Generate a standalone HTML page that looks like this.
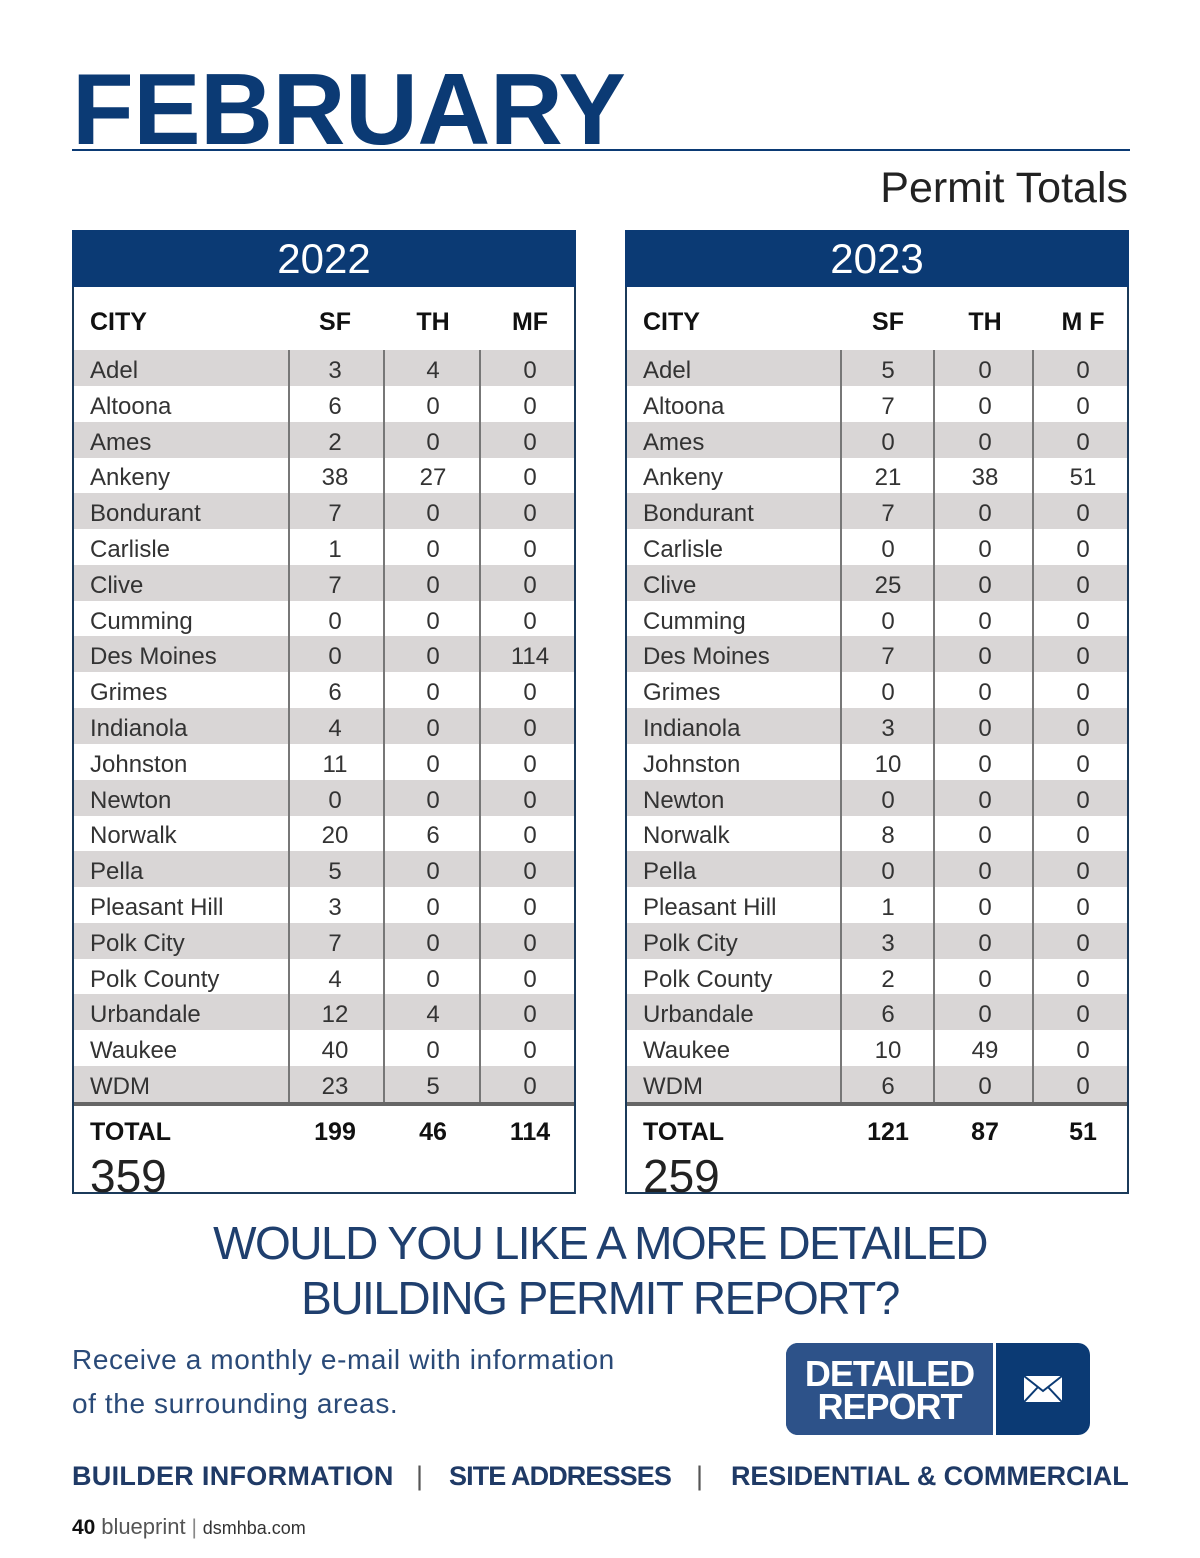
<!DOCTYPE html>
<html><head><meta charset="utf-8">
<style>
body{margin:0;width:1200px;height:1558px;background:#fff;position:relative;font-family:"Liberation Sans",sans-serif;overflow:hidden}
.abs{position:absolute}
.title{left:72px;top:50px;font-size:101px;font-weight:bold;color:#0b3a74;letter-spacing:-0.5px;line-height:120px}
.rule{left:72px;top:149px;width:1058px;height:2px;background:#0b3a74}
.sub{right:72px;top:160px;font-size:43px;color:#222;line-height:56px}
.tbl{top:230px;width:500px;height:962px;border:2px solid #1b3a5a;border-top:none}
.yhead{left:-2px;top:0;width:504px;height:57px;background:#0b3a74;color:#fff;font-size:42px;text-align:center;line-height:57px}
.hdr{top:77px;font-size:25px;font-weight:bold;color:#111;line-height:30px}
.row{left:0;width:500px;height:36px}
.row.g{background:#d9d6d6}
.cell{top:3px;font-size:24px;color:#333;line-height:36px}
.vl{width:2px;background:#777;top:120px;height:754px}
.thick{left:0;width:500px;top:872px;height:4px;background:#666}
.tot{top:888px;font-size:25px;font-weight:bold;color:#111}
.big{top:918px;left:16px;font-size:46px;color:#222;line-height:56px}
.q{left:0;width:1200px;text-align:center;font-size:46px;color:#1f3f6e;letter-spacing:-1.5px;line-height:56px}
.recv{left:72px;font-size:28px;color:#2a4a78;line-height:44px;letter-spacing:0.6px}
.links{top:1461px;font-size:27px;font-weight:bold;color:#1f3a66;letter-spacing:0.3px}
</style></head><body>
<div class="abs title">FEBRUARY</div>
<div class="abs rule"></div>
<div class="abs sub">Permit Totals</div>

<div id="t1" class="abs tbl" style="left:72px"></div>
<div id="t2" class="abs tbl" style="left:625px"></div>

<div class="abs q" style="top:1215px">WOULD YOU LIKE A MORE DETAILED</div>
<div class="abs q" style="top:1270px">BUILDING PERMIT REPORT?</div>
<div class="abs recv" style="top:1338px">Receive a monthly e-mail with information<br>of the surrounding areas.</div>

<div class="abs" style="left:786px;top:1343px;width:304px;height:92px;border-radius:12px;overflow:hidden;background:#0b3a74">
 <div class="abs" style="left:0;top:0;width:207px;height:92px;background:#2d5289;color:#fff;font-weight:bold;font-size:36px;line-height:33px;text-align:center;padding-top:14px;box-sizing:border-box;letter-spacing:-1px">DETAILED<br>REPORT</div>
 <div class="abs" style="left:207px;top:0;width:3px;height:92px;background:#fff"></div>
 <svg class="abs" style="left:237px;top:32px" width="40" height="28"><rect x="1" y="1" width="38" height="26" fill="#fff"/><path d="M1 1 L20 16 L39 1 M1 27 L15 12 M39 27 L25 12" stroke="#0b3a74" stroke-width="2" fill="none"/></svg>
</div>

<div class="abs links" style="left:72px">BUILDER INFORMATION</div>
<div class="abs links" style="left:416px;font-weight:normal;color:#555">|</div>
<div class="abs links" style="left:449px;letter-spacing:-0.9px">SITE ADDRESSES</div>
<div class="abs links" style="left:696px;font-weight:normal;color:#555">|</div>
<div class="abs links" style="left:731px;letter-spacing:-0.1px">RESIDENTIAL &amp; COMMERCIAL</div>

<div class="abs" style="left:72px;top:1514px;font-size:21px;color:#111"><b>40</b> <span style="color:#555;font-size:22px">blueprint</span> <span style="color:#888">|</span> <span style="color:#333;font-size:18px">dsmhba.com</span></div>

<script>
const cities=["Adel","Altoona","Ames","Ankeny","Bondurant","Carlisle","Clive","Cumming","Des Moines","Grimes","Indianola","Johnston","Newton","Norwalk","Pella","Pleasant Hill","Polk City","Polk County","Urbandale","Waukee","WDM"];
const sf2022=[3,6,2,38,7,1,7,0,0,6,4,11,0,20,5,3,7,4,12,40,23];
const th2022=[4,0,0,27,0,0,0,0,0,0,0,0,0,6,0,0,0,0,4,0,5];
const mf2022=[0,0,0,0,0,0,0,0,114,0,0,0,0,0,0,0,0,0,0,0,0];
const sf2023=[5,7,0,21,7,0,25,0,7,0,3,10,0,8,0,1,3,2,6,10,6];
const th2023=[0,0,0,38,0,0,0,0,0,0,0,0,0,0,0,0,0,0,0,49,0];
const mf2023=[0,0,0,51,0,0,0,0,0,0,0,0,0,0,0,0,0,0,0,0,0];
const sum=a=>a.reduce((x,y)=>x+y,0);
function build(id,year,sf,th,mf,divs,cents,mfLabel){
 const t=document.getElementById(id);
 let h=document.createElement('div');h.className='abs yhead';h.textContent=year;
 
 
 t.appendChild(h);
 const hd=[["CITY",16,false],["SF",cents[0],true],["TH",cents[1],true],[mfLabel,cents[2],true]];
 hd.forEach(([s,x,c])=>{const d=document.createElement('div');d.className='abs hdr';d.textContent=s;
  d.style.left=x+'px';if(c)d.style.transform='translateX(-50%)';
  
  
  t.appendChild(d);});
 cities.forEach((c,i)=>{const r=document.createElement('div');r.className='abs row'+(i%2==0?' g':'');
  r.style.top=(120+i*35.8)+'px';
  
  
  const vals=[[c,16,false],[sf[i],cents[0],true],[th[i],cents[1],true],[mf[i],cents[2],true]];
  vals.forEach(([v,x,cc])=>{const d=document.createElement('div');d.className='abs cell';d.textContent=v;d.style.left=x+'px';if(cc)d.style.transform='translateX(-50%)';r.appendChild(d);});
  t.appendChild(r);});
 divs.forEach(x=>{const v=document.createElement('div');v.className='abs vl';v.style.left=x+'px';
  
  
  t.appendChild(v);});
 const k=document.createElement('div');k.className='abs thick';
 
 
 t.appendChild(k);
 [["TOTAL",16,false],[sum(sf),cents[0],true],[sum(th),cents[1],true],[sum(mf),cents[2],true]].forEach(([v,x,cc])=>{
  const d=document.createElement('div');d.className='abs tot';d.textContent=v;d.style.left=x+'px';if(cc)d.style.transform='translateX(-50%)';
  
  
  t.appendChild(d);});
 const b=document.createElement('div');b.className='abs big';b.textContent=sum(sf)+sum(th)+sum(mf);
 
 
 t.appendChild(b);
}
build('t1','2022',sf2022,th2022,mf2022,[214,309,405],[261,359,456],'MF');
build('t2','2023',sf2023,th2023,mf2023,[213,306,405],[261,358,456],'M F');
</script>
</body></html>
